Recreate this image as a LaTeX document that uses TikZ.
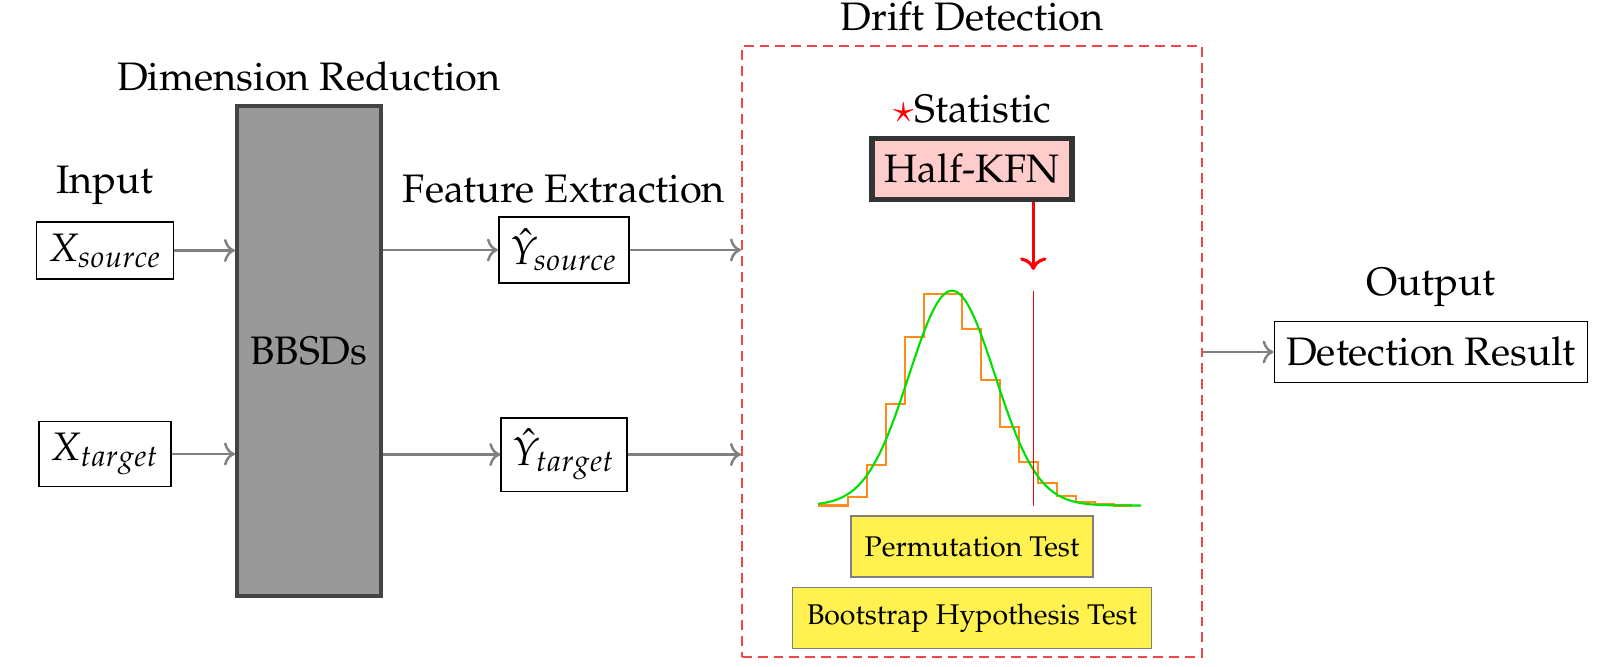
\documentclass[tikz,border=0pt]{standalone}
\usepackage[T1]{fontenc}
\usepackage{mathpazo}
\usepackage{xcolor}
\newcommand{\mainsize}{\fontsize{11.3}{13.5}\selectfont}
\newcommand{\testsize}{\fontsize{8.1}{9.7}\selectfont}
\definecolor{bbsdgray}{HTML}{999999}
\definecolor{bbsdedge}{HTML}{444444}
\definecolor{kfnpink}{HTML}{FFCCCC}
\definecolor{kfnedge}{HTML}{333333}
\definecolor{testyellow}{HTML}{FFF250}
\definecolor{dashred}{HTML}{F04848}
\definecolor{historange}{HTML}{FF8C1A}
\definecolor{fitgreen}{HTML}{00E000}
\tikzset{%
    title/.style={font=\mainsize},
    plain box/.style={draw=black, line width=0.5pt, fill=white, font=\mainsize},
    bbsd box/.style={draw=bbsdedge, line width=1.1pt, fill=bbsdgray, font=\mainsize},
    kfn box/.style={draw=kfnedge, line width=1.6pt, fill=kfnpink, font=\mainsize},
    test box/.style={draw=gray, line width=0.4pt, fill=testyellow, font=\testsize},
    drift frame/.style={draw=dashred, line width=0.5pt, dash pattern=on 2.8pt off 1.7pt},
    flow/.style={draw=gray, line width=0.7pt, ->},
    stat arrow/.style={draw=red, line width=0.9pt, ->}
}
\usetikzlibrary{positioning, arrows.meta}

\begin{document}
\begin{tikzpicture}[x=0.01cm, y=-0.01cm]
    \useasboundingbox (0,0) rectangle (1603,667);
    % input
    \node[plain box] (xsrc) at (105,250.5) {$X_{source}$};
    \node[plain box] (xtgt) at (105,454) {$X_{target}$};
    \node[title, above=1pt of xsrc] (inlab) {Input};
    % dimension reduction
    \node[bbsd box, minimum width=1.44cm, minimum height=4.9cm] (bbsd) at (309,351) {BBSDs};
    \node[title, above=0pt of bbsd] (dimlab) {Dimension Reduction};
    \draw[flow] (xsrc) -- (xsrc -| bbsd.west);
    \draw[flow] (xtgt) -- (xtgt -| bbsd.west);
    % feature extraction
    \node[plain box] (ysrc) at (564,250) {$\hat{Y}_{source}$};
    \node[plain box] (ytgt) at (564,454.5) {$\hat{Y}_{target}$};
    \node[title, above=0pt of ysrc] (featlab) {Feature Extraction};
    \draw[flow] (bbsd.east |- ysrc) -- (ysrc);
    \draw[flow] (bbsd.east |- ytgt) -- (ytgt);
    % drift detection
    \node[drift frame, minimum width=4.6cm, minimum height=6.1cm] (drift) at (972,351.5) {};
    \node[title, above=0.5pt of drift] (driftlab) {Drift Detection};
    \draw[flow] (ysrc) -- (ysrc -| drift.west);
    \draw[flow] (ytgt) -- (ytgt -| drift.west);
    \node[kfn box, minimum width=2.0cm, minimum height=0.61cm] (hkfn) at (972,169) {Half-KFN};
    \node[title, above=0pt of hkfn] (statlab) {\textcolor{red}{$\star$}Statistic};
    % null distribution
    \draw[historange, line width=0.6pt] (818,505.5) -- (847.7,505.5) |- (866.7,496.7) |- (885.7,465) |- (904.7,404) |- (923.7,336.7) |- (961.7,294.3) |- (980.7,329.3) |- (999.7,380) |- (1018.7,426.7) |- (1037.7,461.7) |- (1056.7,483.3) |- (1075.7,495.7) |- (1094.7,501.7) |- (1113.7,504) |- (1132,505.5);
    \draw[fitgreen, line width=0.6pt] plot[domain=818:1141, samples=90, smooth] (\x, {505.5-214.8*exp(-((\x-952)/43)^2/2)});
    \coordinate (arrowtip) at (1033.3,270);
    \coordinate (stattop) at (1033.3,291);
    \coordinate (statbot) at (1033.3,505.7);
    \draw[red, line width=0.4pt] (stattop) -- (statbot);
    \draw[stat arrow] (hkfn.south -| arrowtip) -- (arrowtip);
    \node[test box, minimum width=2.42cm, minimum height=0.61cm] (perm) at (972,546.5) {Permutation Test};
    \node[test box, minimum width=3.59cm, minimum height=0.61cm] (boot) at (972,618) {Bootstrap Hypothesis Test};
    % output
    \node[plain box, minimum height=0.61cm] (result) at (1431,352) {Detection Result};
    \node[title, above=0.5pt of result] (outlab) {Output};
    \draw[flow] (drift.east |- result) -- (result);
\end{tikzpicture}
\end{document}
